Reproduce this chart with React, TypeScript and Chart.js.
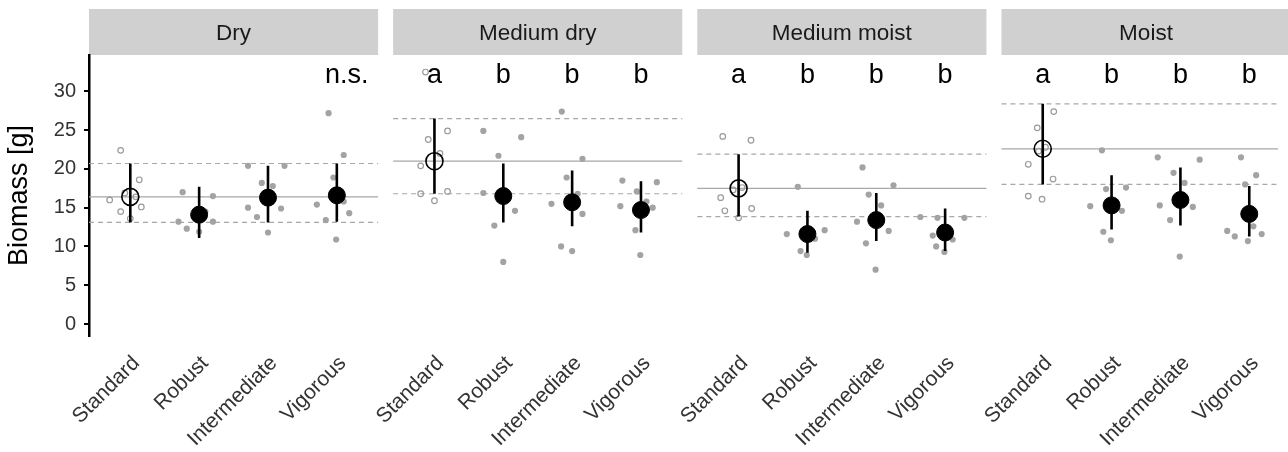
import React, { useEffect, useRef } from "react";
import { Chart, registerables } from "chart.js";

Chart.register(...registerables);

// ---------------- data ----------------
const panels = ["Dry", "Medium dry", "Medium moist", "Moist"];
const categories = ["Standard", "Robust", "Intermediate", "Vigorous"];
const yTicks = [0, 5, 10, 15, 20, 25, 30];

const dryMean = [16.4, 14.1, 16.3, 16.6];
const dryLow = [13.1, 11.1, 13.1, 13.2];
const dryHigh = [20.7, 17.7, 20.4, 20.7];
const dryLetters = ["", "", "", "n.s."];
const dryRaw = [
  [22.4, 16.0, 14.5, 13.6, 18.6, 15.1, 16.4, 16.9],
  [17.0, 13.2, 12.3, 11.9, 16.5, 13.2, 14.5, 14.2],
  [20.4, 20.4, 18.2, 17.8, 15.0, 14.9, 13.8, 11.8],
  [27.2, 21.8, 18.9, 15.4, 13.4, 14.3, 15.8, 10.9],
];
const dryJitter = [
  [-0.14, -0.3, -0.14, 0.0, 0.13, 0.16, 0.08, -0.08],
  [-0.24, -0.3, -0.18, 0.0, 0.2, 0.2, 0.09, -0.05],
  [-0.29, 0.24, -0.09, 0.07, -0.29, 0.19, -0.16, 0.0],
  [-0.12, 0.1, -0.05, -0.29, -0.16, 0.18, 0.1, -0.01],
];

const medDryMean = [21.0, 16.5, 15.7, 14.7];
const medDryLow = [16.8, 13.1, 12.6, 11.8];
const medDryHigh = [26.5, 20.7, 19.8, 18.4];
const medDryLetters = ["a", "b", "b", "b"];
const medDryRaw = [
  [32.5, 24.9, 23.8, 22.0, 20.4, 16.8, 17.1, 15.9],
  [24.9, 24.1, 21.7, 16.9, 14.6, 12.7, 8.0, 16.6],
  [27.4, 21.3, 18.9, 16.8, 15.5, 14.2, 10.0, 9.4],
  [18.5, 18.3, 17.1, 15.8, 15.2, 15.0, 12.1, 8.9],
];
const medDryJitter = [
  [-0.13, 0.19, -0.09, 0.08, -0.2, -0.2, 0.19, 0.0],
  [-0.29, 0.26, -0.07, -0.29, 0.17, -0.13, 0.0, 0.07],
  [-0.15, 0.15, -0.08, 0.08, -0.3, 0.15, -0.16, 0.0],
  [-0.27, 0.23, -0.06, 0.08, -0.3, 0.17, -0.08, -0.01],
];

const medMoistMean = [17.5, 11.6, 13.4, 11.8];
const medMoistLow = [13.85, 9.2, 10.7, 9.4];
const medMoistHigh = [21.9, 14.6, 16.9, 14.9];
const medMoistLetters = ["a", "b", "b", "b"];
const medMoistRaw = [
  [24.2, 23.7, 16.3, 14.6, 14.9, 13.7, 17.6, 17.3],
  [17.7, 12.1, 11.6, 11.0, 9.4, 8.9, 12.0, 11.5],
  [20.2, 17.9, 16.7, 15.3, 13.2, 12.0, 10.4, 7.0],
  [13.8, 13.7, 13.7, 11.4, 10.9, 10.0, 9.3, 11.8],
];
const medMoistJitter = [
  [-0.23, 0.18, -0.26, -0.2, 0.19, 0.0, 0.05, -0.08],
  [-0.14, 0.25, -0.3, 0.11, -0.1, -0.01, -0.07, 0.06],
  [-0.2, 0.25, -0.11, 0.07, -0.28, 0.18, -0.15, -0.01],
  [-0.36, -0.11, 0.28, -0.18, 0.11, -0.13, -0.01, 0.08],
];

const moistMean = [22.6, 15.3, 16.0, 14.2];
const moistLow = [18.0, 12.2, 12.7, 11.3];
const moistHigh = [28.4, 19.2, 20.2, 17.8];
const moistLetters = ["a", "b", "b", "b"];
const moistRaw = [
  [27.4, 25.3, 20.6, 18.7, 16.5, 16.1, 22.8, 22.3],
  [22.4, 17.6, 17.4, 15.2, 14.6, 11.9, 10.8, 15.5],
  [21.5, 21.2, 19.5, 18.2, 15.3, 15.1, 13.4, 8.7],
  [21.5, 19.2, 18.0, 12.6, 12.0, 11.6, 11.3, 10.7],
];
const moistJitter = [
  [0.16, -0.08, -0.21, 0.15, -0.21, -0.01, 0.04, -0.06],
  [-0.14, 0.21, -0.08, -0.31, 0.15, -0.12, -0.01, 0.06],
  [-0.33, 0.28, -0.1, 0.06, -0.3, 0.18, -0.15, -0.01],
  [-0.12, 0.1, -0.06, 0.06, -0.32, 0.18, -0.21, -0.02],
];

// ---------------- layout constants ----------------
const EXPAND = 0.6; // category axis expansion on each side
const STRIDE = 4.418; // panel width (4.2 units) + gap
const FONT = "'Liberation Sans', Arial, Helvetica, sans-serif";

const panelData = [
  { mean: dryMean, low: dryLow, high: dryHigh, raw: dryRaw, jit: dryJitter, letters: dryLetters },
  { mean: medDryMean, low: medDryLow, high: medDryHigh, raw: medDryRaw, jit: medDryJitter, letters: medDryLetters },
  { mean: medMoistMean, low: medMoistLow, high: medMoistHigh, raw: medMoistRaw, jit: medMoistJitter, letters: medMoistLetters },
  { mean: moistMean, low: moistLow, high: moistHigh, raw: moistRaw, jit: moistJitter, letters: moistLetters },
];

const xPos = (p: number, c: number) => p * STRIDE + c;
const panelStart = (p: number) => p * STRIDE - EXPAND;
const panelEnd = (p: number) => p * STRIDE + 3 + EXPAND;

const facetPlugin = {
  id: "facets",
  beforeDraw(chart: any) {
    const { ctx, chartArea, scales } = chart;
    const xs = scales.x;
    ctx.save();
    panels.forEach((name, p) => {
      const x0 = xs.getPixelForValue(panelStart(p));
      const x1 = xs.getPixelForValue(panelEnd(p));
      ctx.fillStyle = "#D0D0D0";
      ctx.fillRect(x0, 9, x1 - x0, chartArea.top - 9);
      ctx.fillStyle = "#1A1A1A";
      ctx.font = `22.5px ${FONT}`;
      ctx.textAlign = "center";
      ctx.textBaseline = "alphabetic";
      ctx.fillText(name, (x0 + x1) / 2, 40);
    });
    ctx.restore();
  },
  afterDraw(chart: any) {
    const { ctx, chartArea, scales } = chart;
    const xs = scales.x;
    ctx.save();
    ctx.fillStyle = "#000";
    ctx.font = `27px ${FONT}`;
    ctx.textAlign = "center";
    ctx.textBaseline = "alphabetic";
    panelData.forEach((pd, p) => {
      pd.letters.forEach((l, c) => {
        if (!l) return;
        const x = xs.getPixelForValue(xPos(p, c)) + (l.length > 1 ? 10 : 0);
        ctx.fillText(l, x, chartArea.top + 27.5);
      });
    });
    ctx.restore();
  },
};

export default function App() {
  const ref = useRef<HTMLCanvasElement>(null);

  useEffect(() => {
    const canvas = ref.current;
    if (!canvas) return;
    Chart.defaults.font.family = FONT;

    const refSolid: any[] = [];
    const refDash: any[] = [];
    const errBars: any[] = [];
    const meanStd: any[] = [];
    const meanOther: any[] = [];
    const rawStd: any[] = [];
    const rawOther: any[] = [];
    const tickPositions: number[] = [];

    panelData.forEach((pd, p) => {
      const s = panelStart(p);
      const e = panelEnd(p);
      refSolid.push({ x: s, y: pd.mean[0] }, { x: e, y: pd.mean[0] }, { x: e, y: null });
      refDash.push({ x: s, y: pd.low[0] }, { x: e, y: pd.low[0] }, { x: e, y: null });
      refDash.push({ x: s, y: pd.high[0] }, { x: e, y: pd.high[0] }, { x: e, y: null });
      categories.forEach((_, c) => {
        const x = xPos(p, c);
        tickPositions.push(x);
        errBars.push({ x, y: pd.low[c] }, { x, y: pd.high[c] }, { x, y: null });
        (c === 0 ? meanStd : meanOther).push({ x, y: pd.mean[c] });
        pd.raw[c].forEach((v, k) => {
          (c === 0 ? rawStd : rawOther).push({ x: x + pd.jit[c][k], y: v });
        });
      });
    });

    const chart = new Chart(canvas, {
      type: "scatter",
      data: {
        datasets: [
          {
            data: meanStd,
            pointRadius: 8.5,
            pointBackgroundColor: "rgba(0,0,0,0)",
            pointBorderColor: "#000",
            pointBorderWidth: 1.6,
            order: 0,
          },
          {
            data: meanOther,
            pointRadius: 8.5,
            pointBackgroundColor: "#000",
            pointBorderColor: "#000",
            pointBorderWidth: 1,
            order: 0,
          },
          {
            data: errBars,
            showLine: true,
            spanGaps: false,
            borderColor: "#000",
            borderWidth: 2.6,
            pointRadius: 0,
            order: 1,
          },
          {
            data: rawStd,
            pointRadius: 2.8,
            pointBackgroundColor: "rgba(0,0,0,0)",
            pointBorderColor: "#9A9A9A",
            pointBorderWidth: 1.2,
            order: 2,
          },
          {
            data: rawOther,
            pointRadius: 3.1,
            pointBackgroundColor: "#A3A3A3",
            pointBorderWidth: 0,
            order: 2,
          },
          {
            data: refSolid,
            showLine: true,
            spanGaps: false,
            borderColor: "#A8A8A8",
            borderWidth: 1.2,
            pointRadius: 0,
            order: 3,
          },
          {
            data: refDash,
            showLine: true,
            spanGaps: false,
            borderColor: "#A8A8A8",
            borderWidth: 1.2,
            borderDash: [5, 4],
            pointRadius: 0,
            order: 3,
          },
        ] as any,
      },
      options: {
        animation: false,
        responsive: false,
        events: [],
        layout: { padding: { top: 55, left: 0, right: 0, bottom: 0 } },
        plugins: {
          legend: { display: false },
          tooltip: { enabled: false },
        },
        scales: {
          x: {
            type: "linear",
            min: -EXPAND,
            max: 16.67,
            afterBuildTicks: (s: any) => {
              s.ticks = tickPositions.map((v) => ({ value: v }));
            },
            afterFit: (s: any) => {
              s.height = 116;
              s.paddingLeft = 0;
              s.paddingRight = 0;
            },
            grid: { display: false, drawTicks: false },
            border: { display: false },
            ticks: {
              autoSkip: false,
              minRotation: 45,
              maxRotation: 45,
              labelOffset: 6,
              padding: 15,
              color: "#333",
              font: { size: 21 },
              callback: (_v: any, i: number) => categories[i % 4],
            },
          },
          y: {
            min: -1.55,
            max: 34.7,
            afterBuildTicks: (s: any) => {
              s.ticks = yTicks.map((v) => ({ value: v }));
            },
            afterFit: (s: any) => {
              s.width = 89;
              s.paddingTop = 0;
              s.paddingBottom = 0;
            },
            grid: {
              drawOnChartArea: false,
              drawTicks: true,
              tickLength: 5,
              color: "#000",
              lineWidth: 2,
            },
            border: { display: true, color: "#000", width: 2.5 },
            ticks: { padding: 8, color: "#333", font: { size: 20 } },
            title: {
              display: true,
              text: "Biomass [g]",
              color: "#000",
              font: { size: 27 },
              padding: { top: 3, bottom: 2 },
            },
          },
        },
      } as any,
      plugins: [facetPlugin],
    });

    return () => chart.destroy();
  }, []);

  return (
    <div
      style={{
        position: "fixed",
        left: 0,
        top: 0,
        width: 1288,
        height: 452,
        background: "#fff",
      }}
    >
      <canvas ref={ref} width={1288} height={452} style={{ display: "block" }} />
    </div>
  );
}
